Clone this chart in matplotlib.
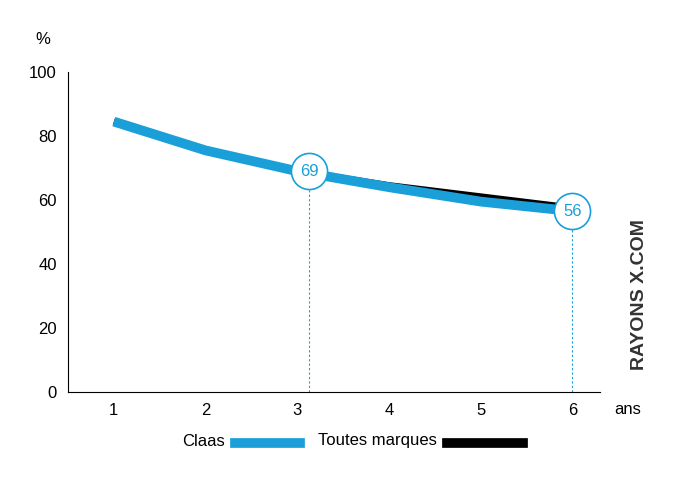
import matplotlib
matplotlib.use("Agg")
import matplotlib.pyplot as plt

plt.rcParams['font.family'] = ['Liberation Sans', 'DejaVu Sans']

years = [1, 2, 3, 4, 5, 6]
claas = [84.5, 75.5, 69, 64, 59.5, 56.5]
toutes = [84.5, 75.5, 69, 64.5, 61, 57.5]
ann_x = [3.13, 6.0]
ann_y = [69, 56.5]
ann_txt = ["69", "56"]
blue = '#1a9fd9'

fig = plt.figure(figsize=(7, 4.82), dpi=100)
ax = fig.add_axes([68/700, 1-392/482, (600-68)/700, 320/482])
ax.set_xlim(0.5, 6.3)
ax.set_ylim(0, 100)
ax.plot(years, toutes, color='black', lw=5, solid_capstyle='butt', zorder=2)
ax.plot(years, claas, color=blue, lw=7, solid_capstyle='butt', zorder=3)
for x, y, t in zip(ann_x, ann_y, ann_txt):
    ax.plot([x, x], [0, y], color=blue, lw=0.8, ls=(0, (2, 2)), zorder=1)
    ax.plot([x], [y], 'o', ms=26, mfc='white', mec=blue, mew=1.2, zorder=4)
    ax.text(x, y, t, color=blue, ha='center', va='center', fontsize=12, zorder=5)
for s in ['top', 'right']:
    ax.spines[s].set_visible(False)
ax.spines['left'].set_linewidth(0.8)
ax.spines['bottom'].set_linewidth(0.8)
ax.set_xticks(years)
ax.set_yticks([0, 20, 40, 60, 80, 100])
ax.tick_params(labelsize=12, length=0, pad=8)
ax.text(6.45, -5.5, 'ans', fontsize=12, ha='left', va='center', clip_on=False)
fig.text(35/700, 1-40/482, '%', fontsize=12, ha='left', va='center')
fig.text(640/700, 1-295/482, 'RAYONS X.COM', rotation=90, fontsize=14, ha='center', va='center',
         color='#333333', fontweight='bold')
# legend
fig.text(182/700, 1-441/482, 'Claas', fontsize=12, ha='left', va='center')
fig.add_artist(plt.Line2D([235/700, 300/700], [1-443/482]*2, color=blue, lw=7))
fig.text(318/700, 1-441/482, 'Toutes marques', fontsize=12, ha='left', va='center')
fig.add_artist(plt.Line2D([447/700, 523/700], [1-443/482]*2, color='black', lw=7))
fig.savefig('out.png', dpi=100)
